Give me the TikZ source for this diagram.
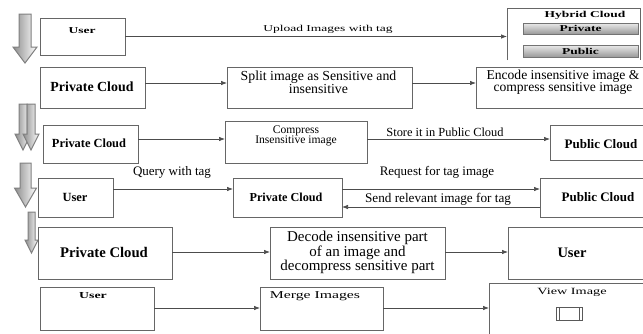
\documentclass[tikz,border=0pt]{standalone}
\usepackage{fontspec}
\setmainfont{Liberation Serif}
\usepackage{graphicx}
\usetikzlibrary{arrows.meta}
\newcommand\fsz[2]{\fontsize{#1}{#2}\selectfont}
\newcommand\wide[1]{\scalebox{1.5}[1]{#1}}
\begin{document}
\begin{tikzpicture}[x=1pt,y=-1pt,
  box/.style={draw=black!60, line width=0.9pt, anchor=north west, inner sep=0, outer sep=0},
  boxline/.style={draw=black!60, line width=0.9pt},
  inbox/.style={box, draw=black!55, line width=0.7pt, top color=black!8, bottom color=black!40},
  arr/.style={draw=black!70, line width=0.7pt, -{Latex[length=6pt,width=4.5pt]}},
  txt/.style={inner sep=0, align=center, text=black},
  blockarr/.style={draw=black!50, line width=1pt, left color=black!45, right color=white, line join=miter}]
\newcommand\bx[5]{\node[box, minimum width={#4-#2}, minimum height={#5-#3}] (#1) at (#2,#3) {};}
\newcommand\darr[6]{\path[blockarr] ({#1-#5},#2) -- ({#1+#5},#2) -- ({#1+#5},#3) -- ({#1+#6},#3) -- (#1,#4) -- ({#1-#6},#3) -- ({#1-#5},#3) -- cycle;}
\useasboundingbox (0,0) rectangle (643,333);
\clip (0,0) rectangle (643,333);
\fill[white] (0,0) rectangle (643,333);

% block arrows on the left
\darr{25}{14}{47}{63}{6}{12}
\darr{23}{104}{134}{150}{4}{8}
\darr{31}{104}{134}{150}{4}{8}
\darr{25.5}{163}{188}{207}{5.5}{11}
\darr{31.5}{212}{240}{253}{3.5}{6.5}

% row 1
\bx{u1}{40}{18}{125}{55}
\node[anchor=north west, minimum width=133, minimum height=52, inner sep=0, outer sep=0] (hyb) at (507,8) {};
\draw[boxline] (hyb.south west) -- (hyb.north west) -- (hyb.north east) -- (hyb.south east);
\node[inbox, minimum width=115, minimum height=11] (hpriv) at (523,23) {};
\node[inbox, minimum width=115, minimum height=12] (hpub) at (523,45) {};
\node[txt, font=\fsz{9}{10}\bfseries] (tu1) at (82,31) {\wide{User}};
\node[txt, font=\fsz{9}{10}] (tup) at (328,29) {\wide{Upload Images with tag}};
\node[txt, font=\fsz{9}{10}\bfseries] (thyb) at (585,15) {\wide{Hybrid Cloud}};
\node[txt, font=\fsz{9}{10}\bfseries] (thpriv) at (hpriv.center) {\wide{Private}};
\node[txt, font=\fsz{9}{10}\bfseries] (thpub) at (hpub.center) {\wide{Public}};
\draw[arr] (u1.east) -- (u1.east -| hyb.west);

% row 2
\bx{pc2}{40}{67}{145}{108}
\bx{sp2}{227}{67}{412}{108}
\bx{en2}{476}{67}{650}{108}
\node[txt, font=\fsz{13.9}{15}\bfseries] (tpc2) at (92,87) {Private Cloud};
\node[txt, font=\fsz{13.8}{13}] (tsp2) at (318.5,82.5) {Split image as Sensitive and\\insensitive};
\node[txt, font=\fsz{13.6}{12.5}] (ten2) at (563,82) {Encode insensitive image \&\\compress sensitive image};
\draw[arr] (pc2.east |- 0,83) -- (sp2.west |- 0,83);
\draw[arr] (sp2.east |- 0,83) -- (en2.west |- 0,83);

% row 3
\bx{pc3}{43}{125}{138}{163}
\bx{cm3}{225}{121}{367}{163}
\bx{pb3}{550}{125}{650}{160}
\node[txt, font=\fsz{12.4}{13}\bfseries] (tpc3) at (89,143) {Private Cloud};
\node[txt, font=\fsz{11.6}{10.5}] (tcm3) at (296,136) {Compress\\Insensitive image};
\node[txt, font=\fsz{12.4}{13}] (tst) at (445,132) {Store it in Public Cloud};
\node[txt, font=\fsz{13}{13}\bfseries] (tpb3) at (601,144) {Public Cloud};
\draw[arr] (pc3.east |- 0,139) -- (cm3.west |- 0,139);
\draw[arr] (cm3.east |- 0,139) -- (pb3.west |- 0,139);

% row 4
\bx{us4}{38}{178}{113}{217}
\bx{pc4}{233}{178}{342}{217}
\bx{pb4}{540}{178}{650}{217}
\node[txt, font=\fsz{13}{13}] (tqu) at (172,172) {Query with tag};
\node[txt, font=\fsz{12.5}{13}\bfseries] (tus4) at (75,197) {User};
\node[txt, font=\fsz{12.2}{13}\bfseries] (tpc4) at (286,197) {Private Cloud};
\node[txt, font=\fsz{13}{13}] (trq) at (437,172) {Request for tag image};
\node[txt, font=\fsz{13.2}{13}] (tsd) at (438,199) {Send relevant image for tag};
\node[txt, font=\fsz{13}{13}\bfseries] (tpb4) at (598,197) {Public Cloud};
\draw[arr] (us4.east |- 0,189) -- (pc4.west |- 0,189);
\draw[arr] (pc4.east |- 0,189) -- (pb4.west |- 0,189);
\draw[arr] (pb4.west |- 0,207) -- (pc4.east |- 0,207);

% row 5
\bx{pc5}{38}{227}{172}{279}
\bx{dc5}{270}{227}{445}{279}
\bx{us5}{508}{227}{650}{279}
\node[txt, font=\fsz{14.7}{15}\bfseries] (tpc5) at (104,252) {Private Cloud};
\node[txt, font=\fsz{15}{14.5}] (tdc5) at (357.5,252.5) {Decode insensitive part\\of an image and\\decompress sensitive part};
\node[txt, font=\fsz{14.5}{15}\bfseries] (tus5) at (572,253) {User};
\draw[arr] (pc5.east |- 0,252) -- (dc5.west |- 0,252);
\draw[arr] (dc5.east |- 0,252) -- (us5.west |- 0,252);

% row 6
\bx{us6}{40}{287}{154}{330}
\bx{mg6}{260}{287}{383}{330}
\bx{vw6}{489}{283}{650}{345}
\node[txt, font=\fsz{9.2}{10}\bfseries] (tus6) at (93,296) {\wide{User}};
\node[txt, font=\fsz{10.5}{11}] (tmg6) at (315,296) {\wide{Merge Images}};
\node[txt, font=\fsz{9.5}{10}] (tvw6) at (572,292) {\wide{View Image}};
\node[draw=black!65, line width=0.8pt, minimum width=26, minimum height=13, inner sep=0, anchor=north west] (icon) at (556,307) {};
\draw[black!65, line width=0.8pt] ([xshift=3pt]icon.north west) -- ([xshift=3pt]icon.south west);
\draw[black!65, line width=0.8pt] ([xshift=-3pt]icon.north east) -- ([xshift=-3pt]icon.south east);
\draw[arr] (us6.east |- 0,308) -- (mg6.west |- 0,308);
\draw[arr] (mg6.east |- 0,308) -- (vw6.west |- 0,308);
\end{tikzpicture}
\end{document}
